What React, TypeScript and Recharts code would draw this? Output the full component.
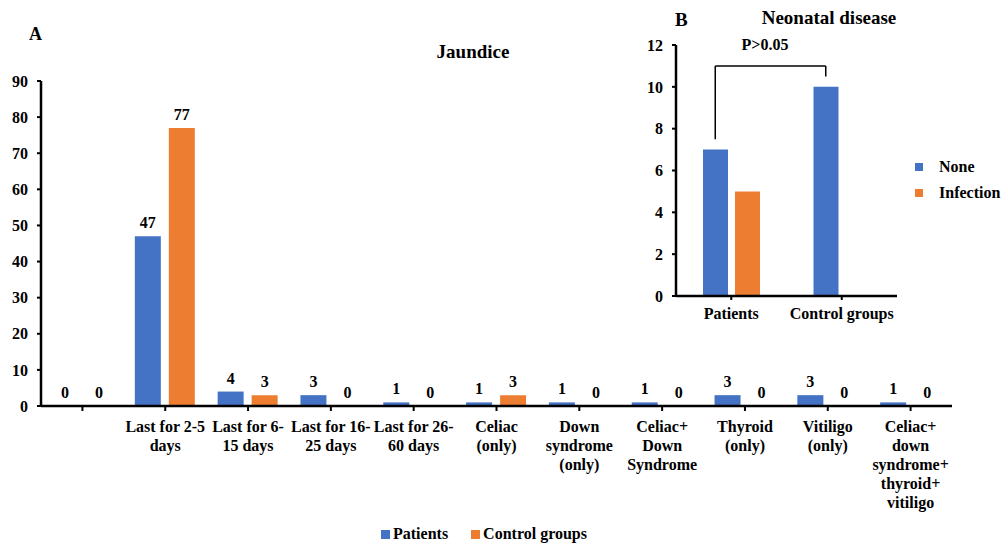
import { Bar, BarChart, LabelList, Legend, ReferenceLine, XAxis, YAxis } from "recharts";

const FONT = '"Liberation Serif", "Times New Roman", serif';
const BLUE = "#4472C4";
const ORANGE = "#ED7D31";

// panel A: jaundice
const jaundiceCategories = [
  "",
  "Last for 2-5\ndays",
  "Last for 6-\n15 days",
  "Last for 16-\n25 days",
  "Last for 26-\n60 days",
  "Celiac\n(only)",
  "Down\nsyndrome\n(only)",
  "Celiac+\nDown\nSyndrome",
  "Thyroid\n(only)",
  "Vitiligo\n(only)",
  "Celiac+\ndown\nsyndrome+\nthyroid+\nvitiligo",
];
const patientCounts = [0, 47, 4, 3, 1, 1, 1, 1, 3, 3, 1];
const controlCounts = [0, 77, 3, 0, 0, 3, 0, 0, 0, 0, 0];
const jaundiceTicks = [0, 10, 20, 30, 40, 50, 60, 70, 80, 90];

// panel B: neonatal disease
const neonatalGroups = ["Patients", "Control groups"];
const noneCounts = [7, 10];
const infectionCounts = [5, 0];
const neonatalTicks = [0, 2, 4, 6, 8, 10, 12];

const jaundiceData = jaundiceCategories.map((category, i) => ({
  category,
  patients: patientCounts[i],
  controls: controlCounts[i],
}));

const neonatalData = neonatalGroups.map((group, i) => ({
  group,
  none: noneCounts[i],
  infection: infectionCounts[i],
}));

const textStyle = { fill: "#000", fontFamily: FONT, fontSize: 16, fontWeight: "bold" as const };
const axisLine = { stroke: "#000", strokeWidth: 2.5 };
const tickLine = { stroke: "#000", strokeWidth: 2 };

const INSET_BAR = 25;
const INSET_GAP = 7;
const bracketShift = -(INSET_BAR + INSET_GAP) / 2;

function WrappedTick(props: any) {
  const { x, y, payload, firstDy = 19, lineHeight = 19 } = props;
  const lines = String(payload.value).split("\n");
  return (
    <text x={x} y={y} textAnchor="middle" {...textStyle}>
      {lines.map((line, i) => (
        <tspan key={i} x={x} dy={i === 0 ? firstDy : lineHeight}>
          {line}
        </tspan>
      ))}
    </text>
  );
}

// bracket legs sit over the "None" bars, not the category centre
function BracketLine(props: any) {
  const { x1, y1, x2, y2 } = props;
  return <line x1={x1 + bracketShift} y1={y1} x2={x2 + bracketShift} y2={y2} stroke="#000" strokeWidth={1.5} />;
}

function LegendRow({ items, vertical }: { items: { label: string; color: string }[]; vertical?: boolean }) {
  return (
    <div
      style={{
        display: "flex",
        flexDirection: vertical ? "column" : "row",
        gap: vertical ? 8 : 23,
        fontFamily: FONT,
        fontSize: 16,
        fontWeight: "bold",
        color: "#000",
        lineHeight: "18px",
      }}
    >
      {items.map((it) => (
        <div key={it.label} style={{ display: "flex", alignItems: "center" }}>
          <span
            style={{
              display: "inline-block",
              width: vertical ? 8 : 9,
              height: vertical ? 8 : 9,
              background: it.color,
              marginRight: vertical ? 16 : 3,
            }}
          />
          <span>{it.label}</span>
        </div>
      ))}
    </div>
  );
}

export default function App() {
  return (
    <div style={{ position: "absolute", left: 0, top: 0, width: 1003, height: 544, background: "#fff", overflow: "hidden" }}>
      <div style={{ position: "absolute", left: 0, top: 0 }}>
        <BarChart
          width={1003}
          height={544}
          data={jaundiceData}
          margin={{ top: 81, right: 51, bottom: 38, left: 0 }}
          barSize={26}
          barGap={8}
        >
          <XAxis
            dataKey="category"
            interval={0}
            height={100}
            axisLine={axisLine}
            tickLine={tickLine}
            tickSize={5}
            tickMargin={2}
            tick={<WrappedTick firstDy={19} lineHeight={19} />}
          />
          <YAxis
            width={41}
            domain={[0, 90]}
            ticks={jaundiceTicks}
            interval={0}
            axisLine={axisLine}
            tickLine={tickLine}
            tickSize={4}
            tickMargin={9}
            tick={textStyle}
          />
          {/* tiny minPointSize so the zero bars still get their "0" labels */}
          <Bar dataKey="patients" name="Patients" fill={BLUE} minPointSize={0.01} isAnimationActive={false}>
            <LabelList dataKey="patients" position="top" offset={8} style={textStyle} />
          </Bar>
          <Bar dataKey="controls" name="Control groups" fill={ORANGE} minPointSize={0.01} isAnimationActive={false}>
            <LabelList dataKey="controls" position="top" offset={8} style={textStyle} />
          </Bar>
          <Legend
            layout="horizontal"
            align="center"
            verticalAlign="middle"
            wrapperStyle={{ left: 381, top: 525, width: 260, height: 20 }}
            content={() => (
              <LegendRow
                items={[
                  { label: "Patients", color: BLUE },
                  { label: "Control groups", color: ORANGE },
                ]}
              />
            )}
          />
        </BarChart>
      </div>

      <div style={{ position: "absolute", left: 620, top: 0 }}>
        <BarChart
          width={383}
          height={340}
          data={neonatalData}
          margin={{ top: 45, right: 106, bottom: 14, left: 0 }}
          barSize={INSET_BAR}
          barGap={INSET_GAP}
        >
          <XAxis
            dataKey="group"
            interval={0}
            height={30}
            axisLine={axisLine}
            tickLine={tickLine}
            tickSize={4}
            tickMargin={2}
            tick={<WrappedTick firstDy={17} lineHeight={19} />}
          />
          <YAxis
            width={56}
            domain={[0, 12]}
            ticks={neonatalTicks}
            interval={0}
            axisLine={axisLine}
            tickLine={tickLine}
            tickSize={4}
            tickMargin={9}
            tick={textStyle}
          />
          <Bar dataKey="none" name="None" fill={BLUE} isAnimationActive={false} />
          <Bar dataKey="infection" name="Infection" fill={ORANGE} isAnimationActive={false} />
          <ReferenceLine
            ifOverflow="visible"
            segment={[
              { x: "Patients", y: 7.5 },
              { x: "Patients", y: 11 },
            ]}
            shape={BracketLine}
          />
          <ReferenceLine
            ifOverflow="visible"
            segment={[
              { x: "Patients", y: 11 },
              { x: "Control groups", y: 11 },
            ]}
            shape={BracketLine}
          />
          <ReferenceLine
            ifOverflow="visible"
            segment={[
              { x: "Control groups", y: 11 },
              { x: "Control groups", y: 10.5 },
            ]}
            shape={BracketLine}
          />
          <Legend
            layout="vertical"
            align="center"
            verticalAlign="middle"
            wrapperStyle={{ left: 295, top: 158, width: 90, height: 44 }}
            content={() => (
              <LegendRow
                vertical
                items={[
                  { label: "None", color: BLUE },
                  { label: "Infection", color: ORANGE },
                ]}
              />
            )}
          />
        </BarChart>
      </div>

      <svg width={1003} height={544} style={{ position: "absolute", left: 0, top: 0, pointerEvents: "none" }}>
        <text x={29} y={40} {...textStyle} fontSize={18}>A</text>
        <text x={473} y={58} textAnchor="middle" {...textStyle} fontSize={19}>Jaundice</text>
        <text x={675} y={26} {...textStyle} fontSize={19}>B</text>
        <text x={829} y={24} textAnchor="middle" {...textStyle} fontSize={19}>Neonatal disease</text>
        <text x={765} y={50} textAnchor="middle" {...textStyle}>P&gt;0.05</text>
      </svg>
    </div>
  );
}
